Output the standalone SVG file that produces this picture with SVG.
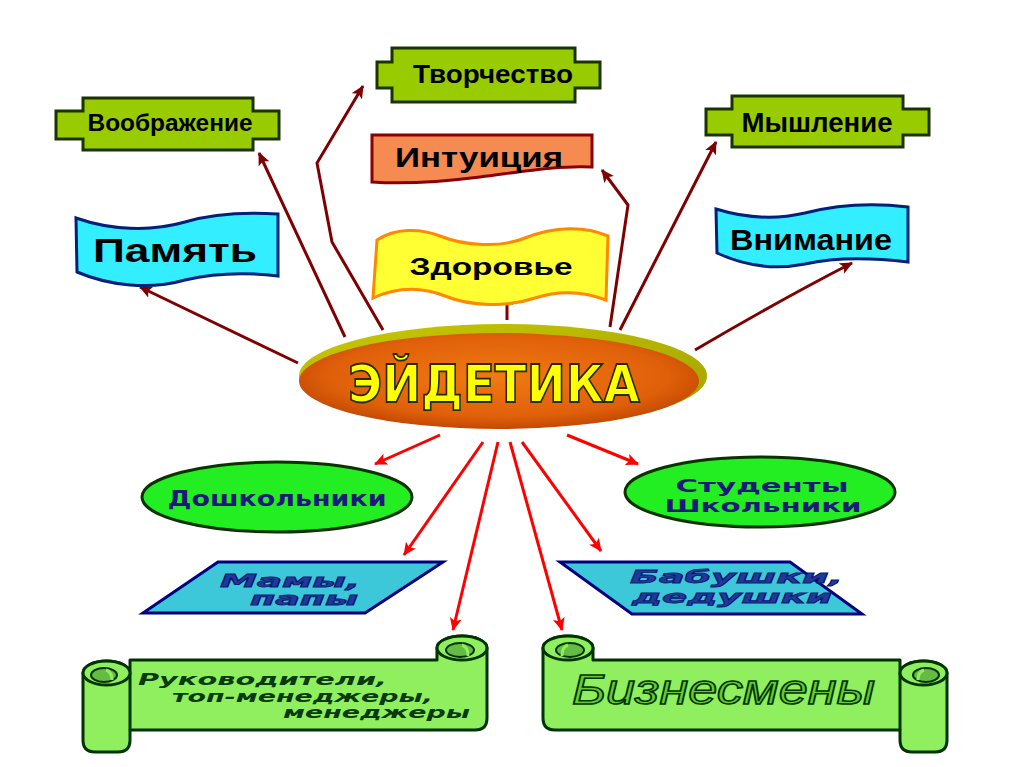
<svg xmlns="http://www.w3.org/2000/svg" width="1024" height="767" viewBox="0 0 1024 767">
<defs>
  <marker id="arrDR" markerUnits="userSpaceOnUse" markerWidth="14" markerHeight="12" refX="12" refY="6" orient="auto">
    <path d="M0,0 L13,6 L0,12 L3,6 Z" fill="#7f0000"/>
  </marker>
  <marker id="arrR" markerUnits="userSpaceOnUse" markerWidth="14" markerHeight="12" refX="12" refY="6" orient="auto">
    <path d="M0,0 L13,6 L0,12 L3,6 Z" fill="#ff0000"/>
  </marker>
  <radialGradient id="gBody" cx="0.5" cy="0.45" r="0.6">
    <stop offset="0" stop-color="#f07a12"/>
    <stop offset="0.7" stop-color="#e0600a"/>
    <stop offset="1" stop-color="#b84000"/>
  </radialGradient>
  <linearGradient id="gRim" x1="0" y1="0" x2="1" y2="1">
    <stop offset="0" stop-color="#c8c800"/>
    <stop offset="1" stop-color="#a0a000"/>
  </linearGradient>
  <style>
    .cross{fill:#99cc00;stroke:#1a3300;stroke-width:3;stroke-linejoin:miter}
    .lbl{font-family:"Liberation Sans",Arial,sans-serif;font-weight:bold;fill:#000;text-anchor:middle}
    .dr{fill:none;stroke:#7f0000;stroke-width:3;marker-end:url(#arrDR)}
    .rd{fill:none;stroke:#ff0000;stroke-width:3;marker-end:url(#arrR)}
    .gell{fill:#22ee22;stroke:#0a3300;stroke-width:3}
    .navy{font-family:"DejaVu Sans",Verdana,sans-serif;font-weight:bold;fill:#1a1a78;text-anchor:middle}
    .para{fill:#3cc8d8;stroke:#000080;stroke-width:3;stroke-linejoin:miter}
    .ital{font-family:"DejaVu Sans",Verdana,sans-serif;font-weight:bold;font-style:italic;fill:#1f3a9a;stroke:#0a1a70;stroke-width:0.8}
    .scroll{fill:#8fef5f;stroke:#003300;stroke-width:3;stroke-linejoin:round}
    .curl{fill:#66bb44;stroke:#003300;stroke-width:2}
    .sct{font-family:"DejaVu Sans",Verdana,sans-serif;font-weight:bold;font-style:italic;fill:#0a3a0a}
  </style>
</defs>
<rect width="1024" height="767" fill="#ffffff"/>

<g id="connectors">
  <path class="dr" d="M298,363 Q230,330 140,287"/>
  <path class="dr" d="M345,337 L259,153"/>
  <path class="dr" d="M383,330 L332,242 L317,163 L363,86"/>
  <path class="dr" d="M507,320 L507,293"/>
  <path class="dr" d="M610,327 L628,205 L602,170"/>
  <path class="dr" d="M620,330 L716,142"/>
  <path class="dr" d="M695,350 Q780,300 852,263"/>
  <path class="rd" d="M440,435 L375,464"/>
  <path class="rd" d="M483,442 L404,555"/>
  <path class="rd" d="M498,442 L453,630"/>
  <path class="rd" d="M510,442 L562,630"/>
  <path class="rd" d="M522,442 L601,551"/>
  <path class="rd" d="M567,435 L638,464"/>
</g>

<g id="node-voobrazhenie">
  <path class="cross" d="M83,98 H253 V111 H279 V139 H253 V150 H83 V139 H56 V111 H83 Z"/>
  <text class="lbl" x="170" y="131" font-size="23" textLength="165" lengthAdjust="spacingAndGlyphs">Воображение</text>
</g>

<g id="node-tvorchestvo">
  <path class="cross" d="M392,48 H575 V62 H600 V88 H575 V102 H392 V88 H377 V62 H392 Z"/>
  <text class="lbl" x="493" y="83" font-size="25" textLength="160" lengthAdjust="spacingAndGlyphs">Творчество</text>
</g>

<g id="node-intuitsiya">
  <path d="M372,135 H592 V167 C560,165 520,172 480,177 C440,182 400,184 372,182 Z" fill="#f58b50" stroke="#8b0000" stroke-width="3"/>
  <text class="lbl" x="479" y="167" font-size="28" textLength="168" lengthAdjust="spacingAndGlyphs">Интуиция</text>
</g>

<g id="node-myshlenie">
  <path class="cross" d="M732,96 H903 V109 H929 V135 H903 V147 H732 V135 H706 V109 H732 Z"/>
  <text class="lbl" x="817" y="132" font-size="27" textLength="151" lengthAdjust="spacingAndGlyphs">Мышление</text>
</g>

<g id="node-pamyat">
  <path d="M76,218 C110,230 150,232 185,222 C215,213 245,212 278,214 L278,276 C245,272 215,273 185,280 C150,290 110,286 77,272 Z" fill="#33eeff" stroke="#00207a" stroke-width="3"/>
  <text class="lbl" x="175" y="262" font-size="33" textLength="164" lengthAdjust="spacingAndGlyphs">Память</text>
</g>

<g id="node-vnimanie">
  <path d="M716,209 C745,218 775,220 805,213 C840,204 875,203 908,207 L908,262 C875,258 840,256 805,264 C775,270 745,266 717,253 Z" fill="#33eeff" stroke="#00207a" stroke-width="3"/>
  <text class="lbl" x="811" y="250" font-size="30" textLength="162" lengthAdjust="spacingAndGlyphs">Внимание</text>
</g>

<g id="node-zdorovie">
  <path d="M377,240 C395,228 420,228 440,236 C465,246 500,248 525,238 C555,226 585,226 608,236 L606,300 C585,292 560,290 535,298 C505,308 470,306 445,296 C420,286 395,288 373,298 Z" fill="#ffff33" stroke="#ff8800" stroke-width="3"/>
  <text class="lbl" x="491" y="275" font-size="24" textLength="163" lengthAdjust="spacingAndGlyphs">Здоровье</text>
</g>

<g id="node-eidetika">
  <ellipse cx="503" cy="376" rx="204" ry="52" fill="url(#gRim)"/>
  <ellipse cx="499" cy="381" rx="200" ry="48" fill="url(#gBody)"/>
  <text x="494" y="402" font-family="'DejaVu Sans',Verdana,sans-serif" font-weight="bold" font-size="52" textLength="292" lengthAdjust="spacingAndGlyphs" fill="#ffff00" stroke="#2a2a00" stroke-width="1.8" text-anchor="middle">ЭЙДЕТИКА</text>
</g>

<g id="node-doshkolniki">
  <ellipse class="gell" cx="277" cy="497" rx="135" ry="35"/>
  <text class="navy" x="277" y="506" font-size="22" textLength="219" lengthAdjust="spacingAndGlyphs">Дошкольники</text>
</g>

<g id="node-studenty">
  <ellipse class="gell" cx="760" cy="492" rx="135" ry="35"/>
  <text class="navy" x="762" y="492" font-size="18" textLength="173" lengthAdjust="spacingAndGlyphs">Студенты</text>
  <text class="navy" x="763" y="512" font-size="18" textLength="197" lengthAdjust="spacingAndGlyphs">Школьники</text>
</g>

<g id="node-mamy">
  <path class="para" d="M218,562 H443 L365,613 H143 Z"/>
  <text class="ital" x="360" y="587" font-size="17" text-anchor="end" textLength="140" lengthAdjust="spacingAndGlyphs">Мамы,</text>
  <text class="ital" x="358" y="605" font-size="17" text-anchor="end" textLength="108" lengthAdjust="spacingAndGlyphs">папы</text>
</g>

<g id="node-babushki">
  <path class="para" d="M560,562 H790 L862,614 H632 Z"/>
  <text class="ital" x="630" y="583" font-size="18" textLength="213" lengthAdjust="spacingAndGlyphs">Бабушки,</text>
  <text class="ital" x="632" y="603" font-size="18" textLength="200" lengthAdjust="spacingAndGlyphs">дедушки</text>
</g>

<g id="node-rukovoditeli">
  <path class="scroll" d="M83,673 A23.5,12 0 0 1 130,673 L130,660 H437 V648 A25,12 0 0 1 487,648 V718 Q487,730 475,730 H130 V740 Q130,752 118,752 H95 Q83,752 83,740 Z"/>
  <path d="M130,673 V730" fill="none" stroke="#003300" stroke-width="3"/>
  <ellipse class="scroll" cx="106.5" cy="673" rx="23.5" ry="12"/>
  <ellipse class="curl" cx="104" cy="675" rx="13" ry="7"/>
  <path d="M106,670 Q112,672 112,680" fill="none" stroke="#8fef5f" stroke-width="3"/>
  <ellipse class="scroll" cx="462" cy="648" rx="25" ry="12"/>
  <ellipse class="curl" cx="460" cy="650" rx="14" ry="7"/>
  <path d="M462,645 Q468,647 468,656" fill="none" stroke="#8fef5f" stroke-width="3"/>
  <text class="sct" x="138" y="685" font-size="16" textLength="249" lengthAdjust="spacingAndGlyphs">Руководители,</text>
  <text class="sct" x="172" y="702" font-size="16" textLength="261" lengthAdjust="spacingAndGlyphs">топ-менеджеры,</text>
  <text class="sct" x="283" y="718" font-size="16" textLength="187" lengthAdjust="spacingAndGlyphs">менеджеры</text>
</g>

<g id="node-biznesmeny">
  <g transform="translate(1030,0) scale(-1,1)">
    <path class="scroll" d="M83,673 A23.5,12 0 0 1 130,673 L130,660 H437 V648 A25,12 0 0 1 487,648 V718 Q487,730 475,730 H130 V740 Q130,752 118,752 H95 Q83,752 83,740 Z"/>
    <path d="M130,673 V730" fill="none" stroke="#003300" stroke-width="3"/>
    <ellipse class="scroll" cx="106.5" cy="673" rx="23.5" ry="12"/>
    <ellipse class="curl" cx="104" cy="675" rx="13" ry="7"/>
    <path d="M106,670 Q112,672 112,680" fill="none" stroke="#8fef5f" stroke-width="3"/>
    <ellipse class="scroll" cx="462" cy="648" rx="25" ry="12"/>
    <ellipse class="curl" cx="460" cy="650" rx="14" ry="7"/>
    <path d="M462,645 Q468,647 468,656" fill="none" stroke="#8fef5f" stroke-width="3"/>
  </g>
  <text x="572" y="704" font-family="'Liberation Sans',Arial,sans-serif" font-style="italic" font-size="42" textLength="303" lengthAdjust="spacingAndGlyphs" fill="#66cc33" stroke="#003300" stroke-width="1.5">Бизнесмены</text>
</g>
</svg>
